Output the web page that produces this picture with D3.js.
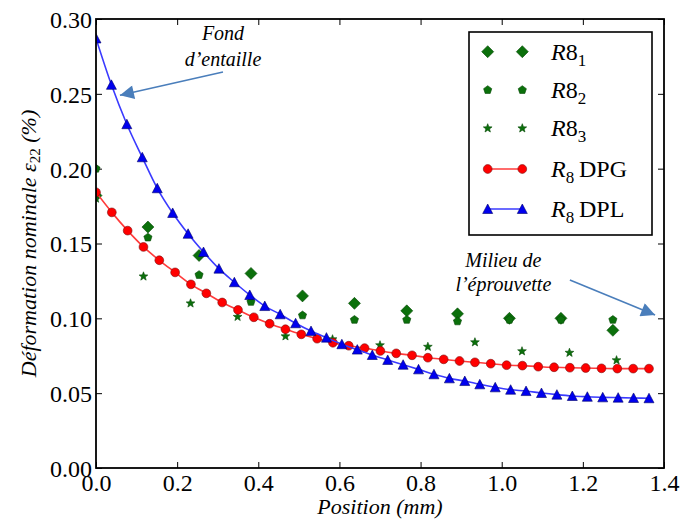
<!DOCTYPE html>
<html><head><meta charset="utf-8">
<script src="https://cdn.jsdelivr.net/npm/d3@7"></script>
<style>
body { margin: 0; background: #fff; }
svg { display: block; }
svg text { font-family: "Liberation Serif", serif !important; }
</style>
</head><body><svg id="c" width="683" height="522" font-family="Liberation Serif"></svg>
<script>
// ---------- data ----------
const xTicks = [0.0, 0.2, 0.4, 0.6, 0.8, 1.0, 1.2, 1.4];
const yTicks = [0.00, 0.05, 0.10, 0.15, 0.20, 0.25, 0.30];

const r81X = [0, 0.128, 0.254, 0.382, 0.509, 0.637, 0.766, 0.891, 1.019, 1.146, 1.274];
const r81Y = [0.182, 0.161, 0.142, 0.130, 0.115, 0.110, 0.105, 0.103, 0.100, 0.100, 0.092];

const r82X = [0, 0.128, 0.254, 0.382, 0.509, 0.637, 0.766, 0.891, 1.019, 1.146, 1.274];
const r82Y = [0.200, 0.154, 0.129, 0.111, 0.102, 0.099, 0.099, 0.098, 0.099, 0.099, 0.099];

const r83X = [0, 0.117, 0.233, 0.349, 0.467, 0.583, 0.700, 0.818, 0.934, 1.050, 1.167, 1.283];
const r83Y = [0.180, 0.128, 0.110, 0.101, 0.088, 0.086, 0.082, 0.081, 0.084, 0.078, 0.077, 0.072];

const dpgX = [0, 0.039, 0.078, 0.117, 0.156, 0.195, 0.234, 0.272, 0.311, 0.350, 0.389, 0.428,
  0.467, 0.506, 0.545, 0.584, 0.623, 0.662, 0.701, 0.740, 0.779, 0.818, 0.857, 0.896,
  0.934, 0.973, 1.012, 1.051, 1.090, 1.129, 1.168, 1.207, 1.246, 1.285, 1.324, 1.363];
const dpgY = [0.1842, 0.1708, 0.1586, 0.1477, 0.1388, 0.1307, 0.1227, 0.1167, 0.1106, 0.1056,
  0.1007, 0.0964, 0.0927, 0.0893, 0.0864, 0.0837, 0.0817, 0.0801, 0.0782, 0.0766, 0.0753,
  0.0737, 0.0726, 0.0715, 0.0706, 0.0697, 0.0687, 0.0684, 0.0677, 0.0673, 0.0670, 0.0668,
  0.0666, 0.0664, 0.0664, 0.0664];

const dplX = [0, 0.038, 0.076, 0.114, 0.151, 0.189, 0.227, 0.265, 0.303, 0.341, 0.379, 0.416,
  0.454, 0.492, 0.530, 0.568, 0.606, 0.644, 0.681, 0.719, 0.757, 0.795, 0.833, 0.871,
  0.909, 0.946, 0.984, 1.022, 1.060, 1.098, 1.136, 1.174, 1.211, 1.249, 1.287, 1.325, 1.363];
const dplY = [0.287, 0.256, 0.2297, 0.2076, 0.1869, 0.1704, 0.1565, 0.1443, 0.1332, 0.1241,
  0.1156, 0.1082, 0.1027, 0.0967, 0.0915, 0.0871, 0.0827, 0.0791, 0.0755, 0.0722, 0.0690,
  0.0659, 0.0626, 0.0599, 0.0581, 0.0559, 0.0539, 0.0523, 0.0514, 0.0501, 0.0490, 0.0481,
  0.0476, 0.0472, 0.0470, 0.0468, 0.0466];

// annotations (data coordinates)
const annFond = {lines: ["Fond", "d\u2019entaille"], x: 0.313, y: [0.286, 0.2688], from: [0.313, 0.2646], to: [0.059, 0.249]};
const annMilieu = {lines: ["Milieu de", "l\u2019\u00e9prouvette"], x: 1.004, y: [0.1345, 0.1185], from: [1.168, 0.1256], to: [1.378, 0.1022]};

const FONT = '"Liberation Serif"';

// ---------- layout ----------
const W = 683, H = 522;
const M = {l: 96, t: 19, r: 19, b: 54};
const pw = W - M.l - M.r, ph = H - M.t - M.b;
const GREEN = "#0b700b", GREEN_E = "#064a06";

const svg = d3.select("#c");
const x = d3.scaleLinear().domain([0, 1.4]).range([M.l, M.l + pw]);
const y = d3.scaleLinear().domain([0, 0.30]).range([M.t + ph, M.t]);

svg.append("defs").append("clipPath").attr("id", "clip")
  .append("rect").attr("x", M.l).attr("y", M.t).attr("width", pw).attr("height", ph);

// marker paths
const diamond = r => `M0,${-r}L${r},0L0,${r}L${-r},0Z`;
const pentagon = r => {
  let p = "";
  for (let i = 0; i < 5; i++) {
    const a = -Math.PI / 2 + i * 2 * Math.PI / 5;
    p += (i ? "L" : "M") + (r * Math.cos(a)).toFixed(2) + "," + (r * Math.sin(a)).toFixed(2);
  }
  return p + "Z";
};
const star = r => {
  let p = "";
  for (let i = 0; i < 10; i++) {
    const a = -Math.PI / 2 + i * Math.PI / 5;
    const rr = i % 2 ? r * 0.42 : r;
    p += (i ? "L" : "M") + (rr * Math.cos(a)).toFixed(2) + "," + (rr * Math.sin(a)).toFixed(2);
  }
  return p + "Z";
};
const triangle = r => `M0,${-r}L${r},${r * 0.9}L${-r},${r * 0.9}Z`;

// ---------- axes ----------
const axB = svg.append("g").attr("transform", `translate(0,${M.t + ph})`)
  .call(d3.axisBottom(x).tickValues(xTicks).tickSizeInner(-6).tickSizeOuter(0).tickPadding(5).tickFormat(d3.format(".1f")));
const axT = svg.append("g").attr("transform", `translate(0,${M.t})`)
  .call(d3.axisTop(x).tickValues(xTicks).tickSizeInner(-6).tickSizeOuter(0).tickFormat(""));
const axL = svg.append("g").attr("transform", `translate(${M.l},0)`)
  .call(d3.axisLeft(y).tickValues(yTicks).tickSizeInner(-6).tickSizeOuter(0).tickPadding(4).tickFormat(d3.format(".2f")));
const axR = svg.append("g").attr("transform", `translate(${M.l + pw},0)`)
  .call(d3.axisRight(y).tickValues(yTicks).tickSizeInner(-6).tickSizeOuter(0).tickFormat(""));
[axB, axT, axL, axR].forEach(a => {
  a.attr("font-family", "Liberation Serif").attr("font-size", 24);
  a.select(".domain").remove();
  a.selectAll(".tick line").attr("stroke", "#000").attr("stroke-width", 1);
  a.selectAll(".tick text").attr("font-family", "Liberation Serif").style("font-family", FONT)
    .style("font-size", "24px").attr("fill", "#000");
});
axB.selectAll(".tick text").attr("dy", "0.75em");
axL.selectAll(".tick text").attr("dy", "0.35em");

// ---------- data marks ----------
const plot = svg.append("g").attr("clip-path", "url(#clip)");
function scatter(xs, ys, pathFn, fill, stroke) {
  plot.append("g").selectAll("path").data(xs.map((v, i) => [v, ys[i]])).join("path")
    .attr("d", pathFn).attr("transform", d => `translate(${x(d[0])},${y(d[1])})`)
    .attr("fill", fill).attr("stroke", stroke).attr("stroke-width", 0.6);
}
scatter(r81X, r81Y, diamond(6), GREEN, GREEN_E);
scatter(r82X, r82Y, pentagon(4.3), GREEN, GREEN_E);
scatter(r83X, r83Y, star(4.6), GREEN, GREEN_E);

const line = d3.line().x(d => x(d[0])).y(d => y(d[1])).curve(d3.curveMonotoneX);
const dpg = dpgX.map((v, i) => [v, dpgY[i]]);
const dpl = dplX.map((v, i) => [v, dplY[i]]);
plot.append("path").datum(dpg).attr("d", line).attr("fill", "none").attr("stroke", "#ff3b3b").attr("stroke-width", 1.6);
plot.append("g").selectAll("circle").data(dpg).join("circle")
  .attr("cx", d => x(d[0])).attr("cy", d => y(d[1])).attr("r", 4.4)
  .attr("fill", "#ff0000").attr("stroke", "#7a1010").attr("stroke-width", 0.6);
plot.append("path").datum(dpl).attr("d", line).attr("fill", "none").attr("stroke", "#3a3aff").attr("stroke-width", 1.6);
scatter(dplX, dplY, triangle(5), "#0000ee", "#00006a");

// frame
svg.append("rect").attr("x", M.l).attr("y", M.t).attr("width", pw).attr("height", ph)
  .attr("fill", "none").attr("stroke", "#000").attr("stroke-width", 1.8);

// ---------- axis labels ----------
svg.append("text").attr("x", x(0.7)).attr("y", 514).attr("text-anchor", "middle")
  .style("font-family", FONT).style("font-size", "22px").style("font-style", "italic").text("Position (mm)");

const yl = svg.append("text").attr("transform", `translate(36,${y(0.15)}) rotate(-90)`)
  .attr("text-anchor", "middle").style("font-family", FONT).style("font-size", "22px");
yl.append("tspan").style("font-style", "italic").text("D\u00e9formation nominale ");
yl.append("tspan").style("font-style", "italic").text("\u03b5");
yl.append("tspan").style("font-size", "15px").attr("dy", 4).text("22");
yl.append("tspan").style("font-style", "italic").attr("dy", -4).text(" (%)");

// ---------- annotations ----------
const ARROW = "#4a7ebb";
svg.append("defs").append("marker").attr("id", "ah").attr("viewBox", "0 0 10 10")
  .attr("refX", 10).attr("refY", 5).attr("markerWidth", 17).attr("markerHeight", 14)
  .attr("markerUnits", "userSpaceOnUse").attr("orient", "auto")
  .append("path").attr("d", "M0,0L10,5L0,10Z").attr("fill", ARROW);
[annFond, annMilieu].forEach(a => {
  a.lines.forEach((t, i) => svg.append("text").attr("x", x(a.x)).attr("y", y(a.y[i]))
    .attr("text-anchor", "middle").style("font-family", FONT).style("font-size", "20px")
    .style("font-style", "italic").text(t));
  svg.append("line").attr("x1", x(a.from[0])).attr("y1", y(a.from[1]))
    .attr("x2", x(a.to[0])).attr("y2", y(a.to[1]))
    .attr("stroke", ARROW).attr("stroke-width", 1.6).attr("marker-end", "url(#ah)");
});

// ---------- legend ----------
const lg = svg.append("g");
lg.append("rect").attr("x", 469).attr("y", 32).attr("width", 183).attr("height", 203)
  .attr("fill", "#fff").attr("stroke", "#000").attr("stroke-width", 1.6);
const entries = [
  {kind: "diamond", base: "R", mid: "8", sub: "1"},
  {kind: "pentagon", base: "R", mid: "8", sub: "2"},
  {kind: "star", base: "R", mid: "8", sub: "3"},
  {kind: "dpg", base: "R", sub: "8", tail: "\u2009DPG"},
  {kind: "dpl", base: "R", sub: "8", tail: "\u2009DPL"}
];
const rowY = [51.7, 90, 128.3, 169, 209];
const mx = [487.7, 522.3];
entries.forEach((e, i) => {
  const cy = rowY[i];
  const g = lg.append("g");
  if (e.kind === "dpg" || e.kind === "dpl") {
    g.append("line").attr("x1", mx[0]).attr("x2", mx[1]).attr("y1", cy).attr("y2", cy)
      .attr("stroke", e.kind === "dpg" ? "#ff3b3b" : "#3a3aff").attr("stroke-width", 1.6);
  }
  mx.forEach(px => {
    if (e.kind === "dpg") g.append("circle").attr("cx", px).attr("cy", cy).attr("r", 4.4)
      .attr("fill", "#ff0000").attr("stroke", "#7a1010").attr("stroke-width", 0.6);
    else {
      const d = e.kind === "diamond" ? diamond(6) : e.kind === "pentagon" ? pentagon(4.3)
        : e.kind === "star" ? star(4.6) : triangle(5);
      g.append("path").attr("d", d).attr("transform", `translate(${px},${cy})`)
        .attr("fill", e.kind === "dpl" ? "#0000ee" : GREEN)
        .attr("stroke", e.kind === "dpl" ? "#00006a" : GREEN_E).attr("stroke-width", 0.6);
    }
  });
  const t = g.append("text").attr("x", 551).attr("y", cy + 8).style("font-family", FONT).style("font-size", "24px");
  t.append("tspan").style("font-style", "italic").text(e.base);
  if (e.mid) t.append("tspan").text(e.mid);
  t.append("tspan").style("font-size", "17px").attr("dy", 6).text(e.sub);
  if (e.tail) t.append("tspan").attr("dy", -6).text(e.tail);
});
</script></body></html>
